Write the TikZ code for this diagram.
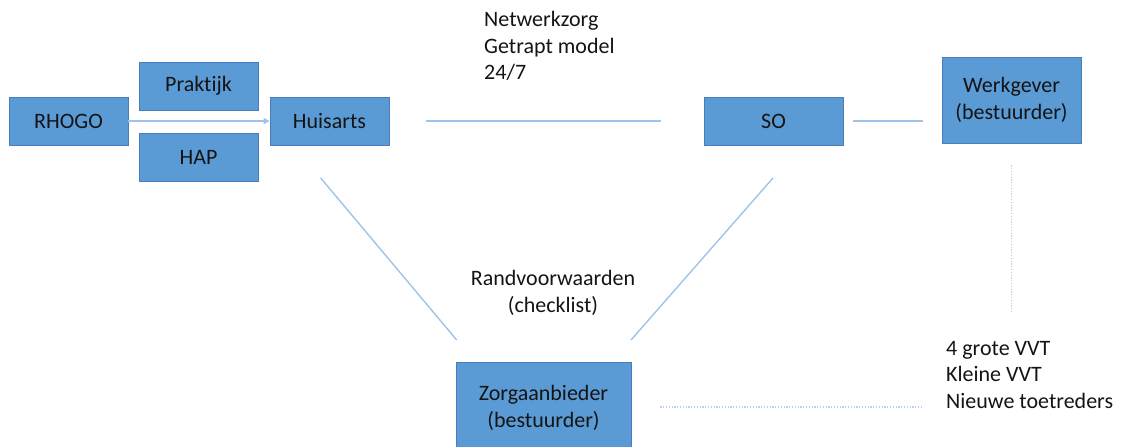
\documentclass[tikz,border=0pt]{standalone}
\usepackage{fontspec}
\setmainfont{Carlito}[Ligatures=NoCommon]
\usetikzlibrary{arrows.meta}
\definecolor{boxfill}{RGB}{91,155,213}
\definecolor{boxline}{RGB}{74,126,187}
\definecolor{lnk}{RGB}{160,195,232}
\definecolor{dlnk}{RGB}{180,208,240}
\definecolor{txt}{RGB}{20,20,20}
\tikzset{
  box/.style={draw=boxline, line width=0.8pt, fill=boxfill, inner sep=0pt, align=center,
    font=\fontsize{22}{26.5}\selectfont, text=txt},
  plain/.style={inner sep=0pt, font=\fontsize{22}{26.5}\selectfont, text=txt},
  link/.style={draw=lnk, line width=1.4pt},
  dotlink/.style={draw=dlnk, line width=1.5pt, dash pattern=on 1.2pt off 1.6pt},
}
\begin{document}
\begin{tikzpicture}[x=1pt,y=-1pt]
\useasboundingbox (0,0) rectangle (1122,447);
% boxes
\node[box, minimum width=119pt, minimum height=48pt] (rh) at (68.5,121) {RHOGO};
\node[box, minimum width=119pt, minimum height=48pt] (pr) at (198.5,86) {Praktijk};
\node[box, minimum width=119pt, minimum height=48pt] (hap) at (198.5,157) {HAP};
\node[box, minimum width=119pt, minimum height=48pt] (hu) at (329.5,121) {Huisarts};
\node[box, minimum width=139pt, minimum height=48pt] (so) at (773.5,121) {SO};
\node[box, minimum width=139pt, minimum height=86pt] (wg) at (1011.5,100) {Werkgever\\(bestuurder)};
\node[box, minimum width=175pt, minimum height=86pt] (zo) at (543.5,405) {};
\node[plain, align=center] (zot) at (543.5,408) {Zorgaanbieder\\[1pt](bestuurder)};
% texts
\node[plain, anchor=west, align=left] (nz) at (484,46) {Netwerkzorg\\Getrapt model\\24/7};
\node[plain, align=center] (rv) at (553,293) {Randvoorwaarden\\(checklist)};
\node[plain, anchor=west, align=left] (vvt) at (946,375) {4 grote VVT\\Kleine VVT\\Nieuwe toetreders};
% connector end points
\coordinate (hua) at (320.7,178);
\coordinate (zoa) at (456.7,340);
\coordinate (soa) at (773,178);
\coordinate (zob) at (631,340);
% connectors
\draw[link, -{Triangle[length=6pt,width=6pt]}] (rh.east) -- (hu.west);
\draw[link, shorten <=37pt, shorten >=43pt] (hu.east) -- (so.west);
\draw[link, shorten <=10pt, shorten >=19pt] (so.east) -- (so.east -| wg.west);
\draw[link] (hua) -- (zoa);
\draw[link] (soa) -- (zob);
\draw[dotlink, shorten <=22pt, shorten >=28pt] (wg.south) -- (wg.south |- vvt.north);
\draw[dotlink, shorten <=29pt, shorten >=24pt] ([yshift=-2pt]zo.east) -- ([yshift=-2pt]zo.east -| vvt.west);
\end{tikzpicture}
\end{document}
